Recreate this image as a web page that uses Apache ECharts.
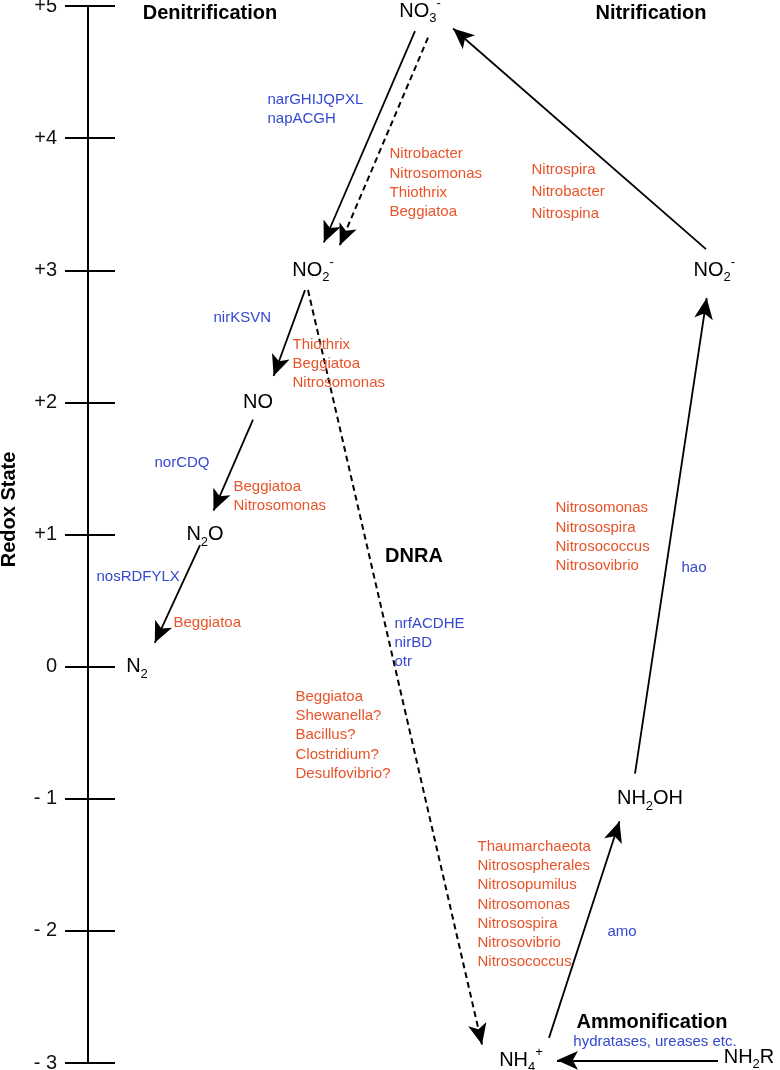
<!DOCTYPE html>
<html>
<head>
<meta charset="utf-8">
<script src="https://cdn.jsdelivr.net/npm/echarts@6/dist/echarts.min.js"></script>
<style>html,body{margin:0;padding:0;background:#fff}#c{width:780px;height:1070px}</style>
</head>
<body>
<div id="c"></div>
<script>
// ---------- data ----------
const redoxTicks = [5, 4, 3, 2, 1, 0, -1, -2, -3];
const redoxTickLabels = ['+5', '+4', '+3', '+2', '+1', '0', '- 1', '- 2', '- 3'];

// nitrogen species: label (rich text), horizontal layout position, redox state
const nodeLabels = ['{m|NO}{sub|3}{sup|-}', '{m|NO}{sub|2}{sup|-}', '{m|NO}', '{m|N}{sub|2}{m|O}', '{m|N}{sub|2}',
                    '{m|NO}{sub|2}{sup|-} ', '{m|NH}{sub|2}{m|OH}', '{m|NH}{sub|4}{sup|+}', '{m|NH}{sub|2}{m|R}'];
const nodeX = [420, 313, 258, 205, 137, 716, 650, 521, 749];
const nodeRedox = [5, 3, 2, 1, 0, 3, -1, -3, -3];

// reaction arrows: start and end [horizontal position, redox state]
const arrowFrom = [[415, 4.81], [428, 4.76], [305, 2.85], [308, 2.85], [253, 1.87], [200, 0.92],
                   [549, -2.81], [635, -0.81], [706, 3.16], [718, -2.98]];
const arrowTo = [[323.8, 3.21], [339.8, 3.19], [273.6, 2.20], [482, -2.86], [213.5, 1.18], [154.8, 0.18],
                 [619.5, -1.17], [706.7, 2.79], [453.1, 4.83], [557, -2.98]];
const arrowDashed = [false, true, false, true, false, false, false, false, false, false];

// process names
const processText = ['Denitrification', 'Nitrification', 'DNRA', 'Ammonification'];
const processAt = [[210, 4.94], [651, 4.94], [414, 0.83], [652, -2.69]];

// genes / enzymes
const geneText = ['narGHIJQPXL\nnapACGH', 'nirKSVN', 'norCDQ', 'nosRDFYLX', 'nrfACDHE\nnirBD\notr', 'hao', 'amo'];
const geneAt = [[267, 4.22], [213, 2.64], [154, 1.54], [96, 0.68], [394, 0.18], [681, 0.75], [607, -2.01]];
const enzymeNoteText = ['hydratases, ureases etc.'];
const enzymeNoteAt = [[655, -2.84]];

// organisms
const organismText = [
  'Nitrobacter\nNitrosomonas\nThiothrix\nBeggiatoa',
  'Thiothrix\nBeggiatoa\nNitrosomonas',
  'Nitrospira\nNitrobacter\nNitrospina',
  'Beggiatoa\nNitrosomonas',
  'Beggiatoa',
  'Beggiatoa\nShewanella?\nBacillus?\nClostridium?\nDesulfovibrio?',
  'Nitrosomonas\nNitrosospira\nNitrosococcus\nNitrosovibrio',
  'Thaumarchaeota\nNitrosospherales\nNitrosopumilus\nNitrosomonas\nNitrosospira\nNitrosovibrio\nNitrosococcus'
];
const organismAt = [[389, 3.66], [292, 2.29], [531, 3.59], [233, 1.29], [173, 0.33], [295, -0.52], [555, 0.98], [477, -1.80]];

// ---------- styles ----------
const FONT = '"Liberation Sans", Arial, Helvetica, sans-serif';
const ORANGE = '#e8542a';
const BLUE = '#3449d0';
const nodeNudge = {0: [0, 5], 7: [0, -3], 8: [0, -6]};

function textSeries(texts, at, labelStyle, itemLabel) {
  return {
    type: 'scatter', symbolSize: 1, silent: true, z: 5,
    itemStyle: {color: 'rgba(0,0,0,0)', opacity: 1},
    data: texts.map((t, i) => {
      const d = {name: t, value: at[i]};
      if (itemLabel && itemLabel[i]) d.label = itemLabel[i];
      return d;
    }),
    label: Object.assign({show: true, formatter: '{b}', fontFamily: FONT, opacity: 1}, labelStyle)
  };
}

const chart = echarts.init(document.getElementById('c'));
const tickFmt = v => { const i = redoxTicks.indexOf(v); return i >= 0 ? redoxTickLabels[i] : ''; };

chart.setOption({
  backgroundColor: '#fff',
  animation: false,
  grid: {left: 88, right: 0, top: 6, bottom: 7, containLabel: false, outerBoundsMode: 'none'},
  xAxis: {type: 'value', min: 88, max: 780, show: false},
  yAxis: [{
    type: 'value', min: -3, max: 5, interval: 1,
    name: 'Redox State', nameLocation: 'middle', nameGap: 69,
    nameTextStyle: {fontFamily: FONT, fontSize: 20, fontWeight: 'bold', color: '#000', padding: [0, 0, 0, 50]},
    axisLine: {show: true, lineStyle: {color: '#000', width: 2}},
    axisTick: {show: true, length: 23, lineStyle: {color: '#000', width: 2}},
    axisLabel: {fontFamily: FONT, fontSize: 20, color: '#111', margin: 31, formatter: tickFmt},
    splitLine: {show: false}
  }, {
    type: 'value', min: -3, max: 5, interval: 1, position: 'left',
    axisLine: {show: false},
    axisTick: {show: true, inside: true, length: 27, lineStyle: {color: '#000', width: 2}},
    axisLabel: {show: false},
    splitLine: {show: false}
  }],
  series: [
    {
      type: 'lines', coordinateSystem: 'cartesian2d', silent: true, z: 3, clip: false,
      symbol: ['none', 'arrow'], symbolSize: [[1, 1], [14, 21]],
      lineStyle: {color: '#000', width: 1.8, opacity: 1, curveness: 0},
      data: arrowFrom.map((f, i) => ({
        coords: [f, arrowTo[i]],
        lineStyle: arrowDashed[i] ? {type: [6, 4], width: 2, color: '#000', opacity: 1} : {color: '#000', opacity: 1}
      }))
    },
    {
      type: 'scatter', symbolSize: 1, silent: true, z: 6,
      itemStyle: {color: 'rgba(0,0,0,0)', opacity: 1},
      data: nodeLabels.map((n, i) => {
        const d = {name: n, value: [nodeX[i], nodeRedox[i]]};
        if (nodeNudge[i]) d.label = {offset: nodeNudge[i]};
        return d;
      }),
      label: {
        show: true, position: 'inside', formatter: '{b}', opacity: 1,
        rich: {
          m: {fontFamily: FONT, fontSize: 20, lineHeight: 28, color: '#000'},
          sub: {fontFamily: FONT, fontSize: 13, lineHeight: 13, verticalAlign: 'bottom', color: '#000'},
          sup: {fontFamily: FONT, fontSize: 13, lineHeight: 13, verticalAlign: 'top', color: '#000'}
        }
      }
    },
    textSeries(processText, processAt, {position: 'inside', fontSize: 20, fontWeight: 'bold', color: '#000'}),
    textSeries(geneText, geneAt, {position: 'right', distance: 0, fontSize: 15, lineHeight: 19, color: BLUE}),
    textSeries(enzymeNoteText, enzymeNoteAt, {position: 'inside', fontSize: 15, color: BLUE}),
    textSeries(organismText, organismAt, {position: 'right', distance: 0, fontSize: 15, lineHeight: 19.3, color: ORANGE},
      {2: {lineHeight: 22}})
  ]
});
</script>
</body>
</html>
